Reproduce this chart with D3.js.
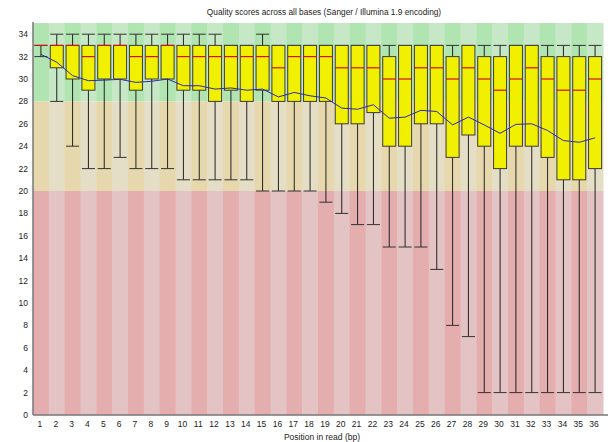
<!DOCTYPE html>
<html>
<head>
<meta charset="utf-8">
<script src="https://cdn.jsdelivr.net/npm/d3@7"></script>
<style>
  html, body { margin: 0; padding: 0; background: #fff; }
  svg { display: block; }
  text { font-family: "Liberation Sans", Arial, sans-serif; fill: #222; }
</style>
</head>
<body>
<svg id="chart" width="610" height="442"></svg>
<script>
// Per-base quality summary (Phred scores), one entry per read position
const positions = d3.range(1, 37);
const lowerWhisker = [32,28,24,22,22,23,22,22,22,21,21,21,21,21,20,20,20,20,19,18,17,17,15,15,15,13,8,7,2,2,2,2,2,2,2,2];
const lowerQuartile = [33,31,30,29,30,30,29,30,30,29,29,28,29,28,29,28,28,28,28,26,26,27,24,24,26,26,23,25,24,22,24,24,23,21,21,22];
const medians = [33,33,33,32,33,33,32,32,33,32,32,32,32,32,32,31,32,32,32,31,31,31,30,30,31,31,30,31,30,29,30,31,30,29,29,30];
const upperQuartile = [33,33,33,33,33,33,33,33,33,33,33,33,33,33,33,33,33,33,33,33,33,33,32,33,33,33,32,33,32,32,33,33,32,32,32,32];
const upperWhisker = [33,34,34,34,34,34,34,34,34,34,34,34,33,33,34,33,33,33,33,33,33,33,33,33,33,33,33,33,33,33,33,33,33,33,33,33];
const means = [32.2,31.5,30.3,29.85,29.9,29.97,29.7,29.8,30.0,29.4,29.4,29.1,29.2,29.0,29.1,28.4,28.8,28.5,28.3,27.4,27.3,27.7,26.5,26.6,27.2,27.1,25.9,26.6,25.9,25.15,25.95,26.0,25.4,24.5,24.35,24.75];
const yTicks = d3.range(0, 35, 2);

// Quality zones: [from, to, colour on odd positions, colour on even positions]
const zones = [
  [28, 35, "rgb(176,228,176)", "rgb(198,232,198)"],
  [20, 28, "rgb(230,216,172)", "rgb(229,222,198)"],
  [0, 20, "rgb(228,173,174)", "rgb(228,195,196)"]
];

const rows = positions.map((p, i) => ({
  pos: p,
  lo: lowerWhisker[i], q1: lowerQuartile[i], med: medians[i],
  q3: upperQuartile[i], hi: upperWhisker[i], mean: means[i]
}));

const svg = d3.select("#chart");
const plotLeft = 33, plotRight = 603, plotTop = 23, plotBottom = 415;

const x = d3.scaleBand().domain(positions).range([plotLeft, plotRight]).padding(0);
const y = d3.scaleLinear().domain([0, 35]).range([plotBottom, plotTop]);
const inset = 1.4;
const bw = x.bandwidth() - 2 * inset;

// background stripes per position and zone
const bg = svg.append("g");
positions.forEach((p, i) => {
  zones.forEach(z => {
    bg.append("rect")
      .attr("x", x(p)).attr("width", x.bandwidth() + 0.5)
      .attr("y", y(z[1])).attr("height", y(z[0]) - y(z[1]))
      .attr("fill", i % 2 === 0 ? z[2] : z[3]);
  });
});

// whiskers
const g = svg.append("g");
g.selectAll("line.whisker").data(rows).join("line")
  .attr("x1", d => x(d.pos) + x.bandwidth() / 2)
  .attr("x2", d => x(d.pos) + x.bandwidth() / 2)
  .attr("y1", d => y(d.lo)).attr("y2", d => y(d.hi))
  .attr("stroke", "#222").attr("stroke-width", 1);

g.selectAll("line.capLo").data(rows).join("line")
  .attr("x1", d => x(d.pos) + inset).attr("x2", d => x(d.pos) + inset + bw)
  .attr("y1", d => y(d.lo)).attr("y2", d => y(d.lo))
  .attr("stroke", "#333").attr("stroke-width", 1);

g.selectAll("line.capHi").data(rows).join("line")
  .attr("x1", d => x(d.pos) + inset).attr("x2", d => x(d.pos) + inset + bw)
  .attr("y1", d => y(d.hi)).attr("y2", d => y(d.hi))
  .attr("stroke", "#333").attr("stroke-width", 1);

// boxes
g.selectAll("rect.box").data(rows).join("rect")
  .attr("x", d => x(d.pos) + inset).attr("width", bw)
  .attr("y", d => y(d.q3)).attr("height", d => y(d.q1) - y(d.q3))
  .attr("fill", "rgb(240,240,0)")
  .attr("stroke", "#3a3a3a").attr("stroke-width", 1);

// medians
g.selectAll("line.median").data(rows).join("line")
  .attr("x1", d => x(d.pos) + inset).attr("x2", d => x(d.pos) + inset + bw)
  .attr("y1", d => y(d.med)).attr("y2", d => y(d.med))
  .attr("stroke", "#d01010").attr("stroke-width", 1.2);

// mean line
svg.append("path").datum(rows)
  .attr("fill", "none").attr("stroke", "#2a2aa8").attr("stroke-width", 1)
  .attr("d", d3.line().x(d => x(d.pos) + x.bandwidth() / 2).y(d => y(d.mean)));

// axes
svg.append("line").attr("x1", plotLeft).attr("x2", plotLeft).attr("y1", plotTop - 1).attr("y2", plotBottom)
  .attr("stroke", "#777").attr("stroke-width", 1.5);
svg.append("line").attr("x1", plotLeft).attr("x2", 608).attr("y1", plotBottom).attr("y2", plotBottom)
  .attr("stroke", "#777").attr("stroke-width", 1.5);

svg.append("g").selectAll("text").data(yTicks).join("text")
  .attr("x", 28).attr("y", d => y(d) + 3)
  .attr("text-anchor", "end").attr("font-size", 8.5)
  .text(d => d);

svg.append("g").selectAll("text").data(positions).join("text")
  .attr("x", d => x(d) + x.bandwidth() / 2 - 1).attr("y", 427)
  .attr("text-anchor", "middle").attr("font-size", 8.5)
  .text(d => d);

svg.append("text").attr("x", 324).attr("y", 15)
  .attr("text-anchor", "middle").attr("font-size", 8.3)
  .text("Quality scores across all bases (Sanger / Illumina 1.9 encoding)");

svg.append("text").attr("x", 322).attr("y", 440)
  .attr("text-anchor", "middle").attr("font-size", 8.5)
  .text("Position in read (bp)");
</script>
</body>
</html>
